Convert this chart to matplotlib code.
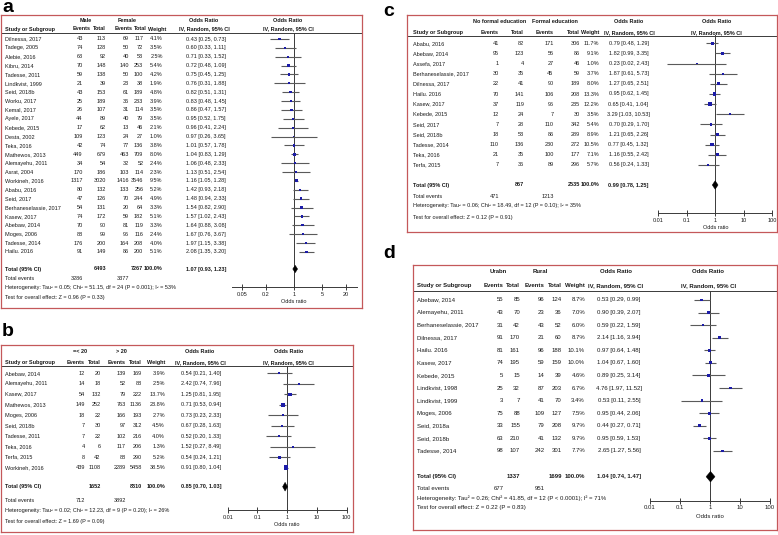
import matplotlib
matplotlib.use('Agg')
import matplotlib.pyplot as plt
import numpy as np
from matplotlib import font_manager
from matplotlib.ticker import NullLocator

W, H = 778, 535

# ------------------------------------------------------------------ data
# panel a : Male vs Female
a_studies = ["Dilnessa, 2017", "Tadege, 2005", "Alebie, 2016", "Kibru, 2014", "Tadesse, 2011",
             "Lindkvist, 1999", "Seid, 2018b", "Worku, 2017", "Kemal, 2017", "Ayele, 2017",
             "Kebede, 2015", "Desta, 2002", "Teka, 2016", "Mathewos, 2013", "Alemayehu, 2011",
             "Asrat, 2004", "Workineh, 2016", "Ababu, 2016", "Seid, 2017", "Berhaneselassie, 2017",
             "Kasew, 2017", "Abebaw, 2014", "Moges, 2006", "Tadesse, 2014", "Hailu. 2016"]
a_ev1 = [43, 74, 63, 70, 59, 21, 43, 25, 26, 44, 17, 109, 42, 449, 34, 170, 1317, 80, 47, 54, 74, 70, 88, 176, 91]
a_tot1 = [113, 128, 92, 148, 138, 39, 153, 189, 107, 89, 62, 123, 74, 679, 54, 186, 3020, 132, 126, 131, 172, 90, 99, 200, 149]
a_ev2 = [69, 50, 40, 140, 50, 23, 61, 36, 31, 40, 13, 24, 77, 463, 32, 103, 1416, 133, 70, 20, 59, 81, 96, 164, 86]
a_tot2 = [117, 72, 53, 253, 100, 38, 189, 233, 114, 79, 46, 27, 136, 709, 52, 114, 3546, 256, 244, 64, 182, 119, 116, 208, 200]
a_weight = [4.1, 3.5, 2.5, 5.4, 4.2, 1.9, 4.8, 3.9, 3.5, 3.5, 2.1, 1.0, 3.8, 8.0, 2.4, 2.3, 9.5, 5.2, 4.9, 3.3, 5.1, 3.3, 2.4, 4.0, 5.1]
a_or = [0.43, 0.60, 0.71, 0.72, 0.75, 0.76, 0.82, 0.83, 0.86, 0.95, 0.96, 0.97, 1.01, 1.04, 1.06, 1.13, 1.16, 1.42, 1.48, 1.54, 1.57, 1.64, 1.67, 1.97, 2.08]
a_lo = [0.25, 0.33, 0.33, 0.48, 0.45, 0.31, 0.51, 0.48, 0.47, 0.52, 0.41, 0.26, 0.57, 0.83, 0.48, 0.51, 1.05, 0.93, 0.94, 0.82, 1.02, 0.88, 0.76, 1.15, 1.35]
a_hi = [0.73, 1.11, 1.52, 1.09, 1.25, 1.88, 1.31, 1.45, 1.57, 1.75, 2.24, 3.65, 1.78, 1.29, 2.33, 2.54, 1.28, 2.18, 2.33, 2.90, 2.43, 3.08, 3.67, 3.38, 3.20]
a_groups = ["Male", "Female"]
a_total = [6493, 7267]
a_total_events = [3286, 3377]
a_pooled = [1.07, 0.93, 1.23]
a_het = "Heterogeneity: Tau² = 0.05; Chi² = 51.15, df = 24 (P = 0.001); I² = 53%"
a_test = "Test for overall effect: Z = 0.96 (P = 0.33)"
a_ticks = [0.05, 0.2, 1, 5, 20]
a_ticklabels = ["0.05", "0.2", "1", "5", "20"]

# panel b : =< 20 vs > 20
b_studies = ["Abebaw, 2014", "Alemayehu, 2011", "Kasew, 2017", "Mathewos, 2013", "Moges, 2006",
             "Seid, 2018b", "Tadesse, 2011", "Teka, 2016", "Terfa, 2015", "Workineh, 2016"]
b_ev1 = [12, 14, 54, 149, 18, 7, 7, 4, 8, 439]
b_tot1 = [20, 18, 132, 252, 22, 30, 22, 6, 42, 1108]
b_ev2 = [139, 52, 79, 763, 166, 97, 102, 117, 88, 2289]
b_tot2 = [169, 88, 222, 1136, 193, 312, 216, 206, 290, 5458]
b_weight = [3.9, 2.5, 13.7, 23.8, 2.7, 4.5, 4.0, 1.3, 5.2, 38.5]
b_or = [0.54, 2.42, 1.25, 0.71, 0.73, 0.67, 0.52, 1.52, 0.54, 0.91]
b_lo = [0.21, 0.74, 0.81, 0.53, 0.23, 0.28, 0.20, 0.27, 0.24, 0.80]
b_hi = [1.40, 7.96, 1.95, 0.94, 2.33, 1.63, 1.33, 8.49, 1.21, 1.04]
b_groups = ["=< 20", "> 20"]
b_total = [1652, 8310]
b_total_events = [712, 3892]
b_pooled = [0.85, 0.70, 1.03]
b_het = "Heterogeneity: Tau² = 0.02; Chi² = 12.23, df = 9 (P = 0.20); I² = 26%"
b_test = "Test for overall effect: Z = 1.69 (P = 0.09)"
b_ticks = [0.01, 0.1, 1, 10, 100]
b_ticklabels = ["0.01", "0.1", "1", "10", "100"]

# panel c : No formal education vs Formal education
c_studies = ["Ababu, 2016", "Abebaw, 2014", "Assefa, 2017", "Berhaneselassie, 2017", "Dilnessa, 2017",
             "Hailu. 2016", "Kasew, 2017", "Kebede, 2015", "Seid, 2017", "Seid, 2018b",
             "Tadesse, 2014", "Teka, 2016", "Terfa, 2015"]
c_ev1 = [41, 95, 1, 30, 22, 70, 37, 12, 7, 18, 110, 21, 7]
c_tot1 = [82, 123, 4, 35, 41, 141, 119, 24, 28, 53, 136, 35, 36]
c_ev2 = [171, 56, 27, 45, 90, 106, 96, 7, 110, 86, 230, 100, 89]
c_tot2 = [306, 86, 46, 59, 189, 208, 235, 30, 342, 289, 272, 177, 296]
c_weight = [11.7, 9.1, 1.0, 3.7, 8.0, 13.3, 12.2, 3.5, 5.4, 8.9, 10.5, 7.1, 5.7]
c_or = [0.79, 1.82, 0.23, 1.87, 1.27, 0.95, 0.65, 3.29, 0.70, 1.21, 0.77, 1.16, 0.56]
c_lo = [0.48, 0.99, 0.02, 0.61, 0.65, 0.62, 0.41, 1.03, 0.29, 0.65, 0.45, 0.55, 0.24]
c_hi = [1.29, 3.35, 2.43, 5.73, 2.51, 1.45, 1.04, 10.53, 1.70, 2.26, 1.32, 2.42, 1.33]
c_groups = ["No formal education", "Formal education"]
c_total = [857, 2535]
c_total_events = [471, 1213]
c_pooled = [0.99, 0.78, 1.25]
c_het = "Heterogeneity: Tau² = 0.06; Chi² = 18.49, df = 12 (P = 0.10); I² = 35%"
c_test = "Test for overall effect: Z = 0.12 (P = 0.91)"
c_ticks = [0.01, 0.1, 1, 10, 100]
c_ticklabels = ["0.01", "0.1", "1", "10", "100"]

# panel d : Urban vs Rural
d_studies = ["Abebaw, 2014", "Alemayehu, 2011", "Berhaneselassie, 2017", "Dilnessa, 2017", "Hailu. 2016",
             "Kasew, 2017", "Kebede, 2015", "Lindkvist, 1998", "Lindkvist, 1999", "Moges, 2006",
             "Seid, 2018a", "Seid, 2018b", "Tadesse, 2014"]
d_ev1 = [55, 43, 31, 91, 81, 74, 5, 25, 3, 75, 33, 63, 98]
d_tot1 = [85, 70, 42, 170, 161, 195, 15, 32, 7, 88, 155, 210, 107]
d_ev2 = [96, 23, 43, 21, 96, 59, 14, 87, 41, 109, 79, 41, 242]
d_tot2 = [124, 36, 52, 60, 188, 159, 39, 203, 70, 127, 208, 132, 301]
d_weight = [8.7, 7.0, 6.0, 8.7, 10.1, 10.0, 4.6, 6.7, 3.4, 7.5, 9.7, 9.7, 7.7]
d_or = [0.53, 0.90, 0.59, 2.14, 0.97, 1.04, 0.89, 4.76, 0.53, 0.95, 0.44, 0.95, 2.65]
d_lo = [0.29, 0.39, 0.22, 1.16, 0.64, 0.67, 0.25, 1.97, 0.11, 0.44, 0.27, 0.59, 1.27]
d_hi = [0.99, 2.07, 1.59, 3.94, 1.48, 1.60, 3.14, 11.52, 2.55, 2.06, 0.71, 1.53, 5.56]
d_groups = ["Urabn", "Rural"]
d_total = [1337, 1699]
d_total_events = [677, 951]
d_pooled = [1.04, 0.74, 1.47]
d_het = "Heterogeneity: Tau² = 0.26; Chi² = 41.85, df = 12 (P < 0.0001); I² = 71%"
d_test = "Test for overall effect: Z = 0.22 (P = 0.83)"
d_ticks = [0.01, 0.1, 1, 10, 100]
d_ticklabels = ["0.01", "0.1", "1", "10", "100"]

# ------------------------------------------------------------------ style
avail = {f.name for f in font_manager.fontManager.ttflist}
if 'Liberation Sans Narrow' in avail:
    FONT, FSCALE = 'Liberation Sans Narrow', 1.0
else:
    FONT, FSCALE = 'Liberation Sans', 0.84
plt.rcParams['font.family'] = [FONT, 'DejaVu Sans']

BOX = '#c4585a'
TXT = '#1a1a1a'
LINE = '#3a3a3a'
CI_C = '#5a5a5a'
SQ = '#1c1ca8'

fig = plt.figure(figsize=(W / 100, H / 100), dpi=100)


def panel(P, D):
    x0, y0, x1, y1 = P['box']
    row0, sp = P['row0'], P['sp']
    fs = P['fs'] * FSCALE

    def r(y):
        return (y - row0) / sp

    tab = fig.add_axes([x0 / W, 1 - y1 / H, (x1 - x0) / W, (y1 - y0) / H])
    tab.set_xlim(x0, x1)
    tab.set_ylim(r(y1), r(y0))
    tab.set_xticks([])
    tab.set_yticks([])
    tab.patch.set_alpha(0)
    for s in tab.spines.values():
        s.set_color(BOX)
        s.set_linewidth(0.9)
    tab.axhline(r(P['line_y']), color=LINE, lw=0.7)

    def T(x, y, s, ha='left', bold=False):
        tab.text(x, y, s, ha=ha, va='center', fontsize=fs, color=TXT,
                 fontweight='bold' if bold else 'normal')

    h1, h2 = r(P['h1']), r(P['h2'])
    T(P['g1x'], h1, D['groups'][0], 'center', True)
    T(P['g2x'], h1, D['groups'][1], 'center', True)
    T(P['orhx'], h1, "Odds Ratio", 'center', True)
    T(P['fhx'], h1, "Odds Ratio", 'center', True)
    T(P['study_x'], h2, "Study or Subgroup", 'left', True)
    hx = P.get('hx', P['cx'])
    for xx, s in zip(hx, ["Events", "Total", "Events", "Total", "Weight"]):
        T(xx, h2, s, 'right', True)
    T(P['orhx'], h2, "IV, Random, 95% CI", 'center', True)
    T(P['fhx'], h2, "IV, Random, 95% CI", 'center', True)

    cx = P['cx']
    n = len(D['studies'])
    for i in range(n):
        T(P['study_x'], i, D['studies'][i])
        T(cx[0], i, str(D['ev1'][i]), 'right')
        T(cx[1], i, str(D['tot1'][i]), 'right')
        T(cx[2], i, str(D['ev2'][i]), 'right')
        T(cx[3], i, str(D['tot2'][i]), 'right')
        T(cx[4], i, "%.1f%%" % D['weight'][i], 'right')
        T(P['c_ci'], i, "%.2f [%.2f, %.2f]" % (D['or'][i], D['lo'][i], D['hi'][i]), 'center')

    ty = r(P['total_y'])
    T(P['study_x'], ty, "Total (95% CI)", 'left', True)
    T(cx[1], ty, str(D['total'][0]), 'right', True)
    T(cx[3], ty, str(D['total'][1]), 'right', True)
    T(cx[4], ty, "100.0%", 'right', True)
    pe, pl, ph = D['pooled']
    T(P['c_ci'], ty, "%.2f [%.2f, %.2f]" % (pe, pl, ph), 'center', True)
    ey = r(P['tev_y'])
    T(P['study_x'], ey, "Total events")
    T(cx[0], ey, str(D['total_events'][0]), 'right')
    T(cx[2], ey, str(D['total_events'][1]), 'right')
    T(P['study_x'], r(P['het_y']), D['het'])
    T(P['study_x'], r(P['test_y']), D['test'])

    # forest plot
    fx0, fx1 = P['fx']
    ay, ly = P['axis_y'], P['line_y']
    fa = fig.add_axes([fx0 / W, 1 - ay / H, (fx1 - fx0) / W, (ay - ly) / H])
    fa.set_xscale('log')
    fa.set_xlim(*P['xlim'])
    fa.set_ylim(r(ay), r(ly))
    fa.patch.set_alpha(0)
    for k in ['top', 'left', 'right']:
        fa.spines[k].set_visible(False)
    fa.spines['bottom'].set_color(LINE)
    fa.spines['bottom'].set_linewidth(0.7)
    fa.set_yticks([])
    fa.set_xticks(D['ticks'])
    fa.set_xticklabels(D['ticklabels'])
    fa.xaxis.set_minor_locator(NullLocator())
    fa.tick_params(axis='x', direction='inout', length=4.5, width=0.7, labelsize=fs,
                   pad=1.2, color=LINE, labelcolor=TXT)
    fa.set_xlabel("Odds ratio", fontsize=fs, color=TXT, labelpad=P['labpad'])
    fa.axvline(1, color=LINE, lw=0.7, zorder=1)
    rows = np.arange(n)
    fa.hlines(rows, D['lo'], D['hi'], color=CI_C, lw=0.8, zorder=2)
    side_px = 1.2 + 0.6 * np.sqrt(np.array(D['weight']))
    fa.scatter(D['or'], rows, marker='s', s=(side_px * 0.72) ** 2, color=SQ,
               linewidths=0, zorder=3)
    dh = 0.42
    fa.fill([pl, pe, ph, pe], [ty, ty - dh, ty, ty + dh], color='black', zorder=3, lw=0.3)

    lx, lyy = P['lab']
    fig.text(lx / W, 1 - lyy / H, P['label'], ha='left', va='center', fontsize=14,
             fontweight='bold', family=['Liberation Sans', 'DejaVu Sans'], color='black')


def data(prefix):
    g = globals()
    keys = ['studies', 'ev1', 'tot1', 'ev2', 'tot2', 'weight', 'or', 'lo', 'hi', 'groups',
            'total', 'total_events', 'pooled', 'het', 'test', 'ticks', 'ticklabels']
    return {k: g[prefix + '_' + k] for k in keys}


P_a = dict(label='a', lab=(2, 8), box=(1, 15, 362, 308), row0=39, sp=8.87, fs=4.7,
           h1=20.5, h2=29, line_y=33, study_x=5,
           cx=[82.7, 106, 129, 143.3, 162.7], hx=[90.7, 106, 133, 146.7, 166],
           g1x=86, g2x=126.7, c_ci=206, orhx=204, fhx=288,
           total_y=269, tev_y=279, het_y=288, test_y=297,
           fx=(231.7, 356.7), xlim=(0.0279, 36.6), axis_y=287, labpad=1.5)
P_b = dict(label='b', lab=(2, 331), box=(1, 345, 353, 532), row0=373.3, sp=10.49, fs=4.7,
           h1=351.7, h2=362.3, line_y=366, study_x=5,
           cx=[85, 100.5, 126, 141.7, 165],
           g1x=80, g2x=121.7, c_ci=201, orhx=200, fhx=288.3,
           total_y=486.7, tev_y=500, het_y=510.7, test_y=521.7,
           fx=(227.7, 346.7), xlim=(0.01, 100), axis_y=510, labpad=1.5)
P_c = dict(label='c', lab=(383, 12), box=(407, 15, 777, 232), row0=43.3, sp=10.14, fs=4.7,
           h1=21.7, h2=32.3, line_y=35.5, study_x=412.7,
           cx=[499, 524, 553.5, 580, 599.5],
           g1x=499.3, g2x=555, c_ci=628.5, orhx=629, fhx=716.7,
           total_y=185, tev_y=196, het_y=206, test_y=217.3,
           fx=(658.3, 772.3), xlim=(0.01, 100), axis_y=213.3, labpad=1.5)
P_d = dict(label='d', lab=(383, 253), box=(413, 265, 777, 530), row0=300, sp=12.58, fs=5.1,
           h1=271.7, h2=286, line_y=290.7, study_x=417.3,
           cx=[503.3, 520, 544.3, 561.7, 585],
           g1x=498.3, g2x=540, c_ci=619, orhx=616, fhx=708.3,
           total_y=476.7, tev_y=488, het_y=498, test_y=507.5,
           fx=(650, 770), xlim=(0.01, 100), axis_y=500.7, labpad=2.5)

panel(P_a, data('a'))
panel(P_b, data('b'))
panel(P_c, data('c'))
panel(P_d, data('d'))

fig.savefig('out.png', dpi=100, facecolor='white')
